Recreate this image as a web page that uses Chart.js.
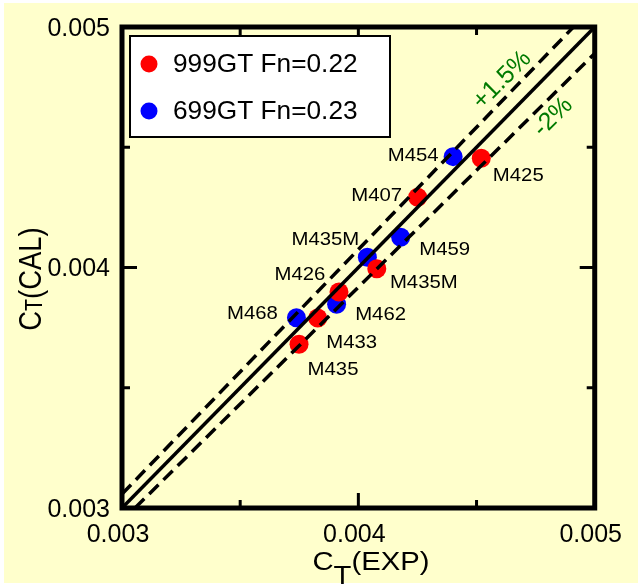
<!DOCTYPE html>
<html><head><meta charset="utf-8">
<style>html,body{margin:0;padding:0;background:#fff;}canvas{display:block;}</style>
<script src="https://cdn.jsdelivr.net/npm/chart.js@4.4.1/dist/chart.umd.min.js"></script>
</head><body>
<canvas id="c" width="638" height="585"></canvas>
<script>
// ---- data ----
const tickValues = [0.003, 0.004, 0.005];
const tickLabels = ['0.003', '0.004', '0.005'];
const minorTickValues = [0.0035, 0.0045];
const majorInnerTickValues = [0.004];

const redName = '999GT Fn=0.22';
const redX = [0.004520, 0.004251, 0.004078, 0.003918, 0.003828, 0.003749];
const redY = [0.004454, 0.004292, 0.003995, 0.003898, 0.003790, 0.003681];
const redNames = ['M425', 'M407', 'M435M', 'M426', 'M433', 'M435'];

const blueName = '699GT Fn=0.23';
const blueX = [0.004401, 0.004179, 0.004038, 0.003908, 0.003738];
const blueY = [0.004461, 0.004126, 0.004043, 0.003847, 0.003791];
const blueNames = ['M454', 'M459', 'M435M', 'M462', 'M468'];

const equalX = [0.003, 0.005];
const equalY = [0.003, 0.005];
const upperX = [0.003, 0.00491];
const upperY = [0.003058, 0.005];
const lowerX = [0.003055, 0.005];
const lowerY = [0.003, 0.00489];

const upperText = '+1.5%';
const lowerText = '-2%';

// ---- layout / style (not data) ----
const redLabelOffsets = [[37,17],[-41,-2],[47,14],[-39,-17],[34,25],[34,26]];
const blueLabelOffsets = [[-40,-1],[44,13],[-42,-17],[44,10],[-44,-4]];
const FONT = '"Liberation Sans", Arial, Helvetica, sans-serif';

const pts = (xs, ys) => xs.map((x, i) => ({x: x, y: ys[i]}));

const bgPlugin = {
  id: 'bg',
  beforeDraw(chart) {
    const ctx = chart.ctx;
    ctx.save();
    ctx.fillStyle = '#ffffff';
    ctx.fillRect(0, 0, chart.width, chart.height);
    ctx.fillStyle = '#FFFFCC';
    ctx.fillRect(4, 3, chart.width - 4, 580);
    ctx.restore();
  }
};

function drawRich(ctx, parts, x, y, rot, sAlong, sPerp, align, baseline) {
  ctx.save();
  ctx.translate(x, y);
  ctx.rotate(rot);
  ctx.scale(sAlong, sPerp);
  ctx.textBaseline = baseline || 'alphabetic';
  ctx.textAlign = 'left';
  let w = 0;
  parts.forEach(p => { ctx.font = p.size + 'px ' + FONT; w += ctx.measureText(p.t).width; });
  let cx = align === 'center' ? -w / 2 : 0;
  parts.forEach(p => {
    ctx.font = p.size + 'px ' + FONT;
    ctx.fillStyle = p.color || '#000';
    ctx.fillText(p.t, cx, p.dy || 0);
    cx += ctx.measureText(p.t).width;
  });
  ctx.restore();
}

const decoPlugin = {
  id: 'deco',
  afterDatasetsDraw(chart) {
    const ctx = chart.ctx;
    const a = chart.chartArea;
    const xs = chart.scales.x, ys = chart.scales.y;
    ctx.save();
    // point labels
    const lab = (dsIndex, names, offs) => {
      const meta = chart.getDatasetMeta(dsIndex);
      meta.data.forEach((el, i) => {
        drawRich(ctx, [{t: names[i], size: 19}], el.x + offs[i][0], el.y + offs[i][1], 0, 1.07, 1, 'center', 'middle');
      });
    };
    lab(3, redNames, redLabelOffsets);
    lab(4, blueNames, blueLabelOffsets);

    // inner ticks
    ctx.strokeStyle = '#000';
    ctx.lineWidth = 3;
    const tick = (v, len) => {
      const px = xs.getPixelForValue(v);
      const py = ys.getPixelForValue(v);
      ctx.beginPath();
      ctx.moveTo(px, a.bottom); ctx.lineTo(px, a.bottom - len);
      ctx.moveTo(px, a.top); ctx.lineTo(px, a.top + len);
      ctx.moveTo(a.left, py); ctx.lineTo(a.left + len, py);
      ctx.moveTo(a.right, py); ctx.lineTo(a.right - len, py);
      ctx.stroke();
    };
    minorTickValues.forEach(v => tick(v, 8));
    majorInnerTickValues.forEach(v => tick(v, 15));

    // frame
    ctx.lineWidth = 5;
    ctx.strokeRect(a.left, a.top, a.right - a.left, a.bottom - a.top);

    // legend
    const lx = a.left + 8, ly = a.top + 9, lw = 260, lh = 101;
    ctx.fillStyle = '#ffffff';
    ctx.fillRect(lx, ly, lw, lh);
    ctx.lineWidth = 2;
    ctx.strokeStyle = '#000';
    ctx.strokeRect(lx, ly, lw, lh);
    [3, 4].forEach((di, k) => {
      const ds = chart.data.datasets[di];
      const cy = ly + 28 + k * 47;
      ctx.beginPath();
      ctx.arc(lx + 19, cy, 8.5, 0, Math.PI * 2);
      ctx.fillStyle = ds.backgroundColor;
      ctx.fill();
      drawRich(ctx, [{t: ds.label, size: 25}], lx + 43, cy + 1, 0, 1.05, 1, 'left', 'middle');
    });

    // percentage annotations
    drawRich(ctx, [{t: upperText, size: 25, color: '#007a00'}], 507, 77 + 8, -Math.PI / 4, 1, 1, 'center');
    drawRich(ctx, [{t: lowerText, size: 25, color: '#007a00'}], 558, 114 + 8, -Math.PI / 4, 1, 1, 'center');

    // axis titles
    drawRich(ctx, [{t: 'C', size: 25}, {t: 'T', size: 25, dy: 14}, {t: '(EXP)', size: 25}], 371, 570, 0, 1.17, 1, 'center');
    drawRich(ctx, [{t: 'C', size: 28}, {t: 'T', size: 20, dy: 1}, {t: '(CAL)', size: 28}], 41, 279, -Math.PI / 2, 0.98, 1.15, 'center');
    ctx.restore();
  }
};

const tickCallback = (v) => {
  const i = tickValues.findIndex(t => Math.abs(t - v) < 1e-9);
  return i >= 0 ? tickLabels[i] : '';
};

new Chart(document.getElementById('c'), {
  type: 'scatter',
  data: {
    datasets: [
      {label: 'eq', data: pts(equalX, equalY), showLine: true, borderColor: '#000', borderWidth: 3.5, pointRadius: 0},
      {label: 'up', data: pts(upperX, upperY), showLine: true, borderColor: '#000', borderWidth: 3.5, borderDash: [13, 7], pointRadius: 0},
      {label: 'lo', data: pts(lowerX, lowerY), showLine: true, borderColor: '#000', borderWidth: 3.5, borderDash: [13, 7], pointRadius: 0},
      {label: redName, data: pts(redX, redY), backgroundColor: '#ff0000', borderWidth: 0, pointRadius: 9.5},
      {label: blueName, data: pts(blueX, blueY), backgroundColor: '#0000ff', borderWidth: 0, pointRadius: 9.5}
    ]
  },
  options: {
    responsive: false,
    animation: false,
    devicePixelRatio: 1,
    layout: {padding: {left: 0, top: 26, right: 36, bottom: 0}},
    plugins: {legend: {display: false}, tooltip: {enabled: false}},
    scales: {
      x: {
        type: 'linear', min: 0.003, max: 0.005,
        afterBuildTicks: s => { s.ticks = tickValues.map(v => ({value: v})); },
        afterFit: s => { s.height = 77; },
        grid: {display: false, drawTicks: false},
        border: {display: false},
        ticks: {callback: tickCallback, font: {family: FONT, size: 25}, color: '#000', padding: 12, labelOffset: -4, maxRotation: 0, autoSkip: false}
      },
      y: {
        type: 'linear', min: 0.003, max: 0.005,
        afterBuildTicks: s => { s.ticks = tickValues.map(v => ({value: v})); },
        afterFit: s => { s.width = 122; },
        grid: {display: false, drawTicks: false},
        border: {display: false},
        ticks: {callback: tickCallback, font: {family: FONT, size: 25}, color: '#000', padding: 12, labelOffset: 2, autoSkip: false}
      }
    }
  },
  plugins: [bgPlugin, decoPlugin]
});
</script>
</body></html>
